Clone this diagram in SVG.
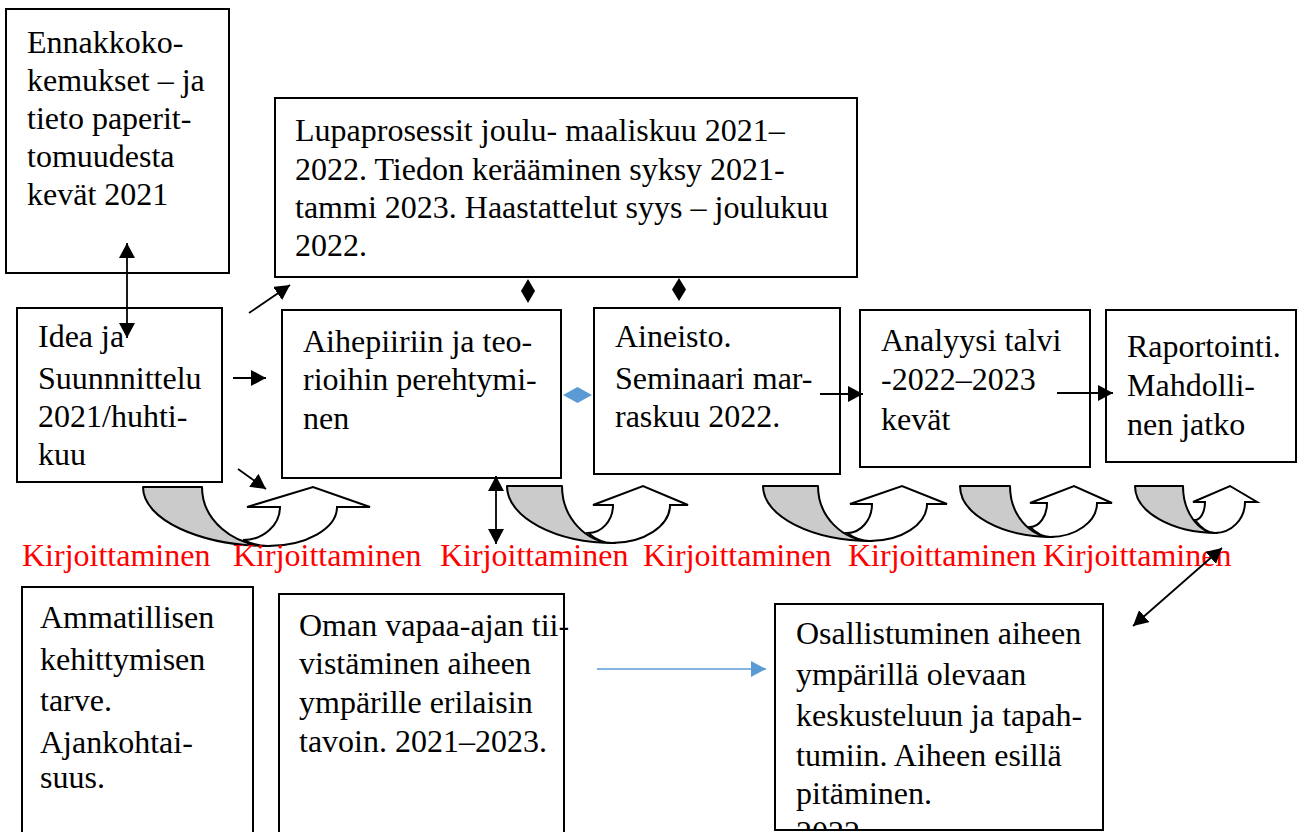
<svg xmlns="http://www.w3.org/2000/svg" width="1312" height="832" viewBox="0 0 1312 832">
<style>
.box{fill:#fff;stroke:#000;stroke-width:2}
.t{font-family:"Liberation Serif","Times New Roman",serif;font-size:32px;fill:#000}
.red{font-family:"Liberation Serif","Times New Roman",serif;font-size:32px;fill:#ff0000}
.gray{fill:#cbcbcb;stroke:#000;stroke-width:2;stroke-linejoin:round}
.white{fill:#fff;stroke:#000;stroke-width:2;stroke-linejoin:miter}
.con{stroke:#000;stroke-width:1.8;fill:none}
.blue{stroke:#5b9bd5;stroke-width:1.3;fill:none}
</style>
<defs>
<marker id="ah" markerUnits="userSpaceOnUse" viewBox="0 0 15 16" markerWidth="15" markerHeight="16" refX="15" refY="8" orient="auto-start-reverse">
<path d="M0,0 L15,8 L0,16 Z" fill="#000"/>
</marker>
<marker id="ahb" markerUnits="userSpaceOnUse" viewBox="0 0 15 16" markerWidth="15" markerHeight="16" refX="15" refY="8" orient="auto">
<path d="M0,0 L15,8 L0,16 Z" fill="#5b9bd5"/>
</marker>
<clipPath id="clipOs"><rect x="775" y="604" width="327" height="225"/></clipPath>
</defs>
<rect width="1312" height="832" fill="#fff"/>

<g id="ennakko">
<rect class="box" x="6" y="9" width="223" height="264"/>
<text class="t"><tspan x="27" y="53">Ennakkoko-</tspan><tspan x="27" y="91">kemukset – ja</tspan><tspan x="27" y="129">tieto paperit-</tspan><tspan x="27" y="167">tomuudesta</tspan><tspan x="27" y="205">kevät 2021</tspan></text>
</g>

<g id="lupa">
<rect class="box" x="275" y="98" width="582" height="179"/>
<text class="t"><tspan x="295" y="141">Lupaprosessit joulu- maaliskuu 2021–</tspan><tspan x="295" y="180">2022. Tiedon kerääminen syksy 2021-</tspan><tspan x="295" y="218">tammi 2023. Haastattelut syys – joulukuu</tspan><tspan x="295" y="256">2022.</tspan></text>
</g>

<g id="idea">
<rect class="box" x="17" y="308" width="205" height="174"/>
<text class="t"><tspan x="38" y="347">Idea ja</tspan><tspan x="38" y="389">Suunnnittelu</tspan><tspan x="38" y="427">2021/huhti-</tspan><tspan x="38" y="465">kuu</tspan></text>
</g>

<g id="aihepiiri">
<rect class="box" x="282" y="310" width="279" height="168"/>
<text class="t"><tspan x="303" y="352">Aihepiiriin ja teo-</tspan><tspan x="303" y="390">rioihin perehtymi-</tspan><tspan x="303" y="429">nen</tspan></text>
</g>

<g id="aineisto">
<rect class="box" x="594" y="308" width="246" height="166"/>
<text class="t"><tspan x="615" y="347">Aineisto.</tspan><tspan x="615" y="389">Seminaari mar-</tspan><tspan x="615" y="427">raskuu 2022.</tspan></text>
</g>

<g id="analyysi">
<rect class="box" x="860" y="310" width="230" height="157"/>
<text class="t"><tspan x="881" y="351">Analyysi talvi</tspan><tspan x="881" y="390">-2022–2023</tspan><tspan x="881" y="430">kevät</tspan></text>
</g>

<g id="raportointi">
<rect class="box" x="1106" y="310" width="190" height="152"/>
<text class="t"><tspan x="1127" y="357">Raportointi.</tspan><tspan x="1127" y="396">Mahdolli-</tspan><tspan x="1127" y="435">nen jatko</tspan></text>
</g>

<g id="ammatillisen">
<rect class="box" x="22" y="587" width="231" height="260"/>
<text class="t"><tspan x="40" y="628">Ammatillisen</tspan><tspan x="40" y="670">kehittymisen</tspan><tspan x="40" y="711">tarve.</tspan><tspan x="40" y="753">Ajankohtai-</tspan><tspan x="40" y="788">suus.</tspan></text>
</g>

<g id="oman">
<rect class="box" x="279" y="594" width="285" height="260"/>
<text class="t"><tspan x="299" y="636">Oman vapaa-ajan tii-</tspan><tspan x="299" y="674">vistäminen aiheen</tspan><tspan x="299" y="713">ympärille erilaisin</tspan><tspan x="299" y="752">tavoin. 2021–2023.</tspan></text>
</g>

<g id="osallistuminen">
<rect class="box" x="775" y="604" width="328" height="226"/>
<text class="t" clip-path="url(#clipOs)"><tspan x="796" y="644">Osallistuminen aiheen</tspan><tspan x="796" y="685">ympärillä olevaan</tspan><tspan x="796" y="726">keskusteluun ja tapah-</tspan><tspan x="796" y="766">tumiin. Aiheen esillä</tspan><tspan x="796" y="804">pitäminen.</tspan><tspan x="796" y="843">2022</tspan></text>
</g>

<g id="kirjoittaminen1">
<path class="gray" d="M143,487 L202,487 C202,519.6 232.5,546 270,546 C199.9,546 143,519.6 143,487 Z"/>
<path class="white" d="M243,540 C263.4,540 280,525.2 280,507 L247,507 L313,487 L370,507 L337,507 C337,528.5 306.1,546 268,546 Q255.5,546 243,540 Z"/>
</g>
<g id="kirjoittaminen2">
<path class="gray" d="M507,486 L562,486 C562,517.5 585.7,543 615,543 C555.4,543 507,517.5 507,486 Z"/>
<path class="white" d="M588,533 C601.8,533 613,520.5 613,505 L593,505 L643,486 L688,505 L670,505 C670,526 644,543 612,543 Q600,543 588,533 Z"/>
</g>
<g id="kirjoittaminen3">
<path class="gray" d="M763,486 L818,486 C818,516.4 842.2,541 872,541 C811.8,541 763,516.4 763,486 Z"/>
<path class="white" d="M847,533 C860.8,533 872,520 872,504 L850,504 L902,486 L947,504 L927,504 C927,524.4 901.5,541 870,541 Q858.5,541 847,533 Z"/>
</g>
<g id="kirjoittaminen4">
<path class="gray" d="M960,486 L1010,486 C1010,514.2 1029.3,537 1053,537 C1001.7,537 960,514.2 960,486 Z"/>
<path class="white" d="M1030,527 C1039.4,527 1047,516.2 1047,503 L1030,503 L1074,486 L1112,503 L1097,503 C1097,521.8 1075.9,537 1050,537 Q1040,537 1030,527 Z"/>
</g>
<g id="kirjoittaminen5">
<path class="gray" d="M1135,486 L1183,486 C1183,511.9 1198.2,533 1217,533 C1171.7,533 1135,511.9 1135,486 Z"/>
<path class="white" d="M1195,520 C1200.5,520 1205,511.9 1205,502 L1193,502 L1230,486 L1257,502 L1245,502 C1245,519.1 1231.6,533 1215,533 Q1205,533 1195,520 Z"/>
</g>

<g id="labels">
<text class="red" x="22" y="566">Kirjoittaminen</text>
<text class="red" x="233" y="566">Kirjoittaminen</text>
<text class="red" x="440" y="566">Kirjoittaminen</text>
<text class="red" x="643" y="566">Kirjoittaminen</text>
<text class="red" x="848" y="566">Kirjoittaminen</text>
<text class="red" x="1043" y="566">Kirjoittaminen</text>
</g>

<g id="connectors">
<line class="con" x1="127" y1="243" x2="127" y2="338" marker-start="url(#ah)" marker-end="url(#ah)"/>
<line class="con" x1="249" y1="313" x2="290" y2="285" marker-end="url(#ah)"/>
<line class="con" x1="233" y1="378" x2="266" y2="378" marker-end="url(#ah)"/>
<line class="con" x1="238" y1="469" x2="266" y2="489" marker-end="url(#ah)"/>
<polygon points="528,279 535,291 528,303 521,291" fill="#000"/>
<polygon points="679,278 686,289.5 679,301 672,289.5" fill="#000"/>
<polygon points="563,395 577.5,387 592,395 577.5,403" fill="#5b9bd5"/>
<line class="con" x1="496" y1="476" x2="496" y2="544" marker-start="url(#ah)" marker-end="url(#ah)"/>
<line class="con" x1="820" y1="394" x2="863" y2="394" marker-end="url(#ah)"/>
<line class="con" x1="1057" y1="393" x2="1113" y2="393" marker-end="url(#ah)"/>
<line class="blue" x1="597" y1="669" x2="766" y2="669" marker-end="url(#ahb)"/>
<line class="con" x1="1133" y1="626" x2="1222" y2="548" marker-start="url(#ah)" marker-end="url(#ah)"/>
</g>
</svg>
